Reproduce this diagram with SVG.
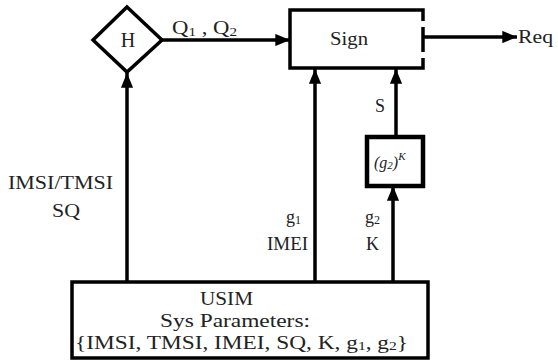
<svg xmlns="http://www.w3.org/2000/svg" width="558" height="363" viewBox="0 0 558 363" font-family="Liberation Serif">
<style>
.ln{stroke:#000;stroke-width:3.5;fill:none}
.bx{stroke:#000;stroke-width:3.5;fill:#fff}
.t{font-size:18px;fill:#222}
</style>
<defs>
<marker id="ah" viewBox="0 0 12 10" refX="12" refY="5" markerWidth="4.2" markerHeight="3.6" markerUnits="strokeWidth" orient="auto">
<path d="M0,0 L12,5 L0,10 z" fill="#000"/>
</marker>
</defs>
<rect width="558" height="363" fill="#fff"/>
<g id="connectors">
<line class="ln" x1="162" y1="40" x2="290" y2="40" marker-end="url(#ah)"/>
<line class="ln" x1="424" y1="37" x2="517" y2="37" marker-end="url(#ah)"/>
<line class="ln" x1="127" y1="282" x2="127" y2="73" marker-end="url(#ah)"/>
<line class="ln" x1="315" y1="282" x2="315" y2="69" marker-end="url(#ah)"/>
<line class="ln" x1="396" y1="137" x2="396" y2="69" marker-end="url(#ah)"/>
<line class="ln" x1="393" y1="282" x2="393" y2="186" marker-end="url(#ah)"/>
<text class="t" x="172" y="34" textLength="65" lengthAdjust="spacingAndGlyphs">Q<tspan font-size="12" dy="2">1</tspan><tspan dy="-2"> , Q</tspan><tspan font-size="12" dy="2">2</tspan></text>
<text class="t" x="518" y="43" textLength="35" lengthAdjust="spacingAndGlyphs">Req</text>
<text class="t" x="375" y="112">S</text>
<text class="t" x="8" y="189" textLength="105" lengthAdjust="spacingAndGlyphs">IMSI/TMSI</text>
<text class="t" x="52" y="217" textLength="28" lengthAdjust="spacingAndGlyphs">SQ</text>
<text class="t" x="286" y="223">g<tspan font-size="12" dy="1">1</tspan></text>
<text class="t" x="267" y="250" textLength="41" lengthAdjust="spacingAndGlyphs">IMEI</text>
<text class="t" x="365" y="223">g<tspan font-size="12" dy="1">2</tspan></text>
<text class="t" x="366" y="250">K</text>
</g>
<g id="H">
<polygon class="bx" points="127,7 162,40 127,72 93,40"/>
<text class="t" x="128" y="47" style="font-size:20px" text-anchor="middle">H</text>
</g>
<g id="Sign">
<path class="ln" d="M423,21 L423,10 L290,10 L290,68 L423,68 L423,58"/>
<line class="ln" x1="423" y1="27" x2="423" y2="52"/>
<text class="t" x="330" y="45" textLength="38" lengthAdjust="spacingAndGlyphs">Sign</text>
</g>
<g id="g2K">
<rect class="bx" x="367" y="137" width="56" height="49" style="stroke-width:4.5"/>
<text class="t" x="374" y="168" style="font-size:16px" font-style="italic">(g<tspan font-size="11" dy="1">2</tspan><tspan dy="-1">)</tspan><tspan font-size="11" dy="-8">K</tspan></text>
</g>
<g id="USIM">
<rect class="bx" x="72" y="282" width="356" height="76"/>
<text class="t" x="200" y="305" textLength="53" lengthAdjust="spacingAndGlyphs">USIM</text>
<text class="t" x="160" y="327" textLength="150" lengthAdjust="spacingAndGlyphs">Sys Parameters:</text>
<text class="t" x="75" y="349" textLength="333" lengthAdjust="spacingAndGlyphs">{IMSI, TMSI, IMEI, SQ, K, g<tspan font-size="12" dy="1">1</tspan><tspan dy="-1">, g</tspan><tspan font-size="12" dy="1">2</tspan><tspan dy="-1">}</tspan></text>
</g>
</svg>
